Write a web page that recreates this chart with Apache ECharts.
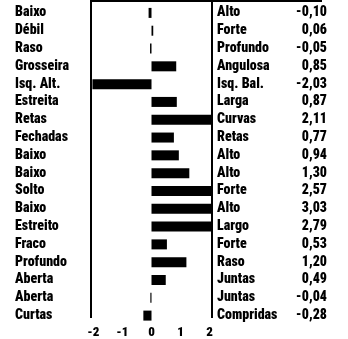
<!DOCTYPE html>
<html>
<head>
<meta charset="utf-8">
<script src="https://cdn.jsdelivr.net/npm/echarts@6/dist/echarts.min.js"></script>
<style>
  html, body { margin: 0; padding: 0; background: #fff; }
  #chart { width: 348px; height: 339px; }
</style>
</head>
<body>
<div id="chart"></div>
<script>
// Left-hand pole of each scale, right-hand pole, and the score between them
const leftLabels = ['Baixo', 'Débil', 'Raso', 'Grosseira', 'Isq. Alt.', 'Estreita', 'Retas', 'Fechadas',
  'Baixo', 'Baixo', 'Solto', 'Baixo', 'Estreito', 'Fraco', 'Profundo', 'Aberta', 'Aberta', 'Curtas'];
const rightLabels = ['Alto', 'Forte', 'Profundo', 'Angulosa', 'Isq. Bal.', 'Larga', 'Curvas', 'Retas',
  'Alto', 'Alto', 'Forte', 'Alto', 'Largo', 'Forte', 'Raso', 'Juntas', 'Juntas', 'Compridas'];
const scores = [-0.10, 0.06, -0.05, 0.85, -2.03, 0.87, 2.11, 0.77,
  0.94, 1.30, 2.57, 3.03, 2.79, 0.53, 1.20, 0.49, -0.04, -0.28];
const tickValues = [-2, -1, 0, 1, 2];

// Narrow heavy face for all text
const FONT = '"Roboto Condensed", "Liberation Sans Narrow", Roboto, sans-serif';
const WEIGHT = 900;
const X_MIN = -2.08, X_MAX = 2.08;

const fmt = v => v.toFixed(2).replace('.', ',');
const chart = echarts.init(document.getElementById('chart'), null, { renderer: 'canvas' });

chart.setOption({
  animation: false,
  backgroundColor: '#fff',
  grid: { left: 91, right: 136, top: 4, bottom: 12.6, containLabel: false },
  xAxis: {
    type: 'value', min: X_MIN, max: X_MAX,
    axisLine: { show: false }, axisTick: { show: false }, splitLine: { show: false },
    axisLabel: {
      customValues: tickValues, margin: 1.5,
      fontFamily: FONT, fontWeight: WEIGHT, fontSize: 13, color: '#000',
      formatter: v => String(Math.round(v))
    }
  },
  yAxis: [{
    type: 'category', data: leftLabels, inverse: true,
    axisLine: { show: false }, axisTick: { show: false },
    axisLabel: {
      align: 'left', margin: 76, interval: 0,
      fontFamily: FONT, fontWeight: WEIGHT, fontSize: 14, color: '#000'
    }
  }, {
    type: 'category', data: rightLabels.map((r, i) => r + '|' + fmt(scores[i])), inverse: true,
    position: 'right',
    axisLine: { show: false }, axisTick: { show: false },
    axisLabel: {
      margin: 5, interval: 0,
      formatter: s => {
        const [n, v] = s.split('|');
        return '{n|' + n + '}{v|' + v + '}';
      },
      rich: {
        n: { width: 72, align: 'left', fontFamily: FONT, fontWeight: WEIGHT, fontSize: 14, color: '#000' },
        v: { width: 38, align: 'right', fontFamily: FONT, fontWeight: WEIGHT, fontSize: 14, color: '#000' }
      }
    }
  }],
  series: [{
    type: 'bar', data: scores, barWidth: 10, clip: true,
    itemStyle: { color: '#000' }
  }]
});

// Frame: vertical rules at both ends of the scale and a rule along the top
const xl = chart.convertToPixel({ xAxisIndex: 0 }, X_MIN);
const xr = chart.convertToPixel({ xAxisIndex: 0 }, X_MAX);
chart.setOption({
  graphic: [
    { type: 'line', shape: { x1: xl, y1: 0, x2: xl, y2: 318 }, style: { stroke: '#000', lineWidth: 2 } },
    { type: 'line', shape: { x1: xr, y1: 0, x2: xr, y2: 318 }, style: { stroke: '#000', lineWidth: 2 } },
    { type: 'line', shape: { x1: xl, y1: 1, x2: 322, y2: 1 }, style: { stroke: '#000', lineWidth: 2 } }
  ]
});
</script>
</body>
</html>
